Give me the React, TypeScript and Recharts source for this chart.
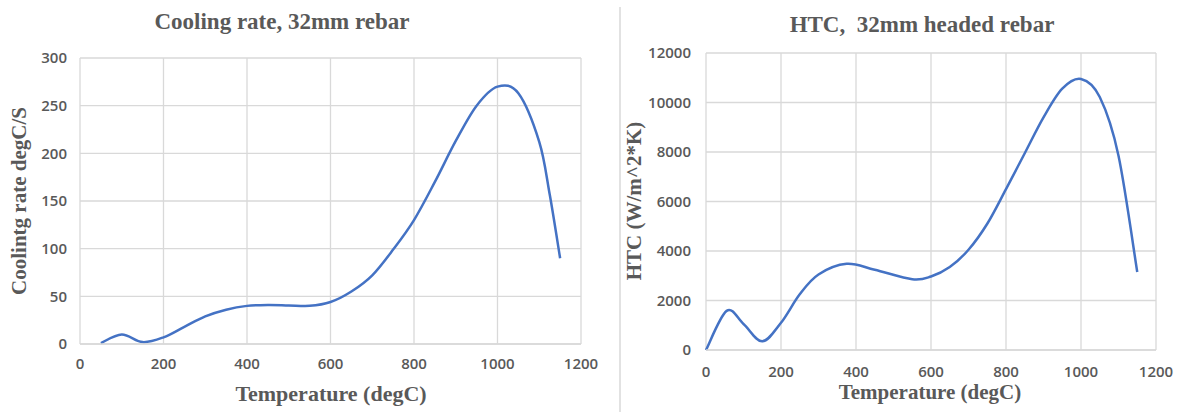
import React from "react";
import { LineChart, Line, XAxis, YAxis, CartesianGrid } from "recharts";

// Cooling rate of 32mm rebar vs temperature
const coolTemps = [50, 100, 150, 200, 250, 300, 350, 400, 450, 500, 550, 600, 650, 700, 750, 800, 850, 900, 950, 1000, 1050, 1100, 1125, 1150];
const coolRates = [1, 10, 2, 7, 18, 29, 36, 40, 41, 40.5, 40, 44, 55, 72, 99, 130, 170, 213, 250, 270, 263, 212, 157, 90];

// HTC of 32mm headed rebar vs temperature
const htcTemps = [0, 55, 100, 150, 200, 250, 300, 375, 450, 550, 600, 650, 700, 750, 800, 850, 900, 950, 1000, 1050, 1100, 1150];
const htcValues = [0, 1580, 1050, 350, 1100, 2250, 3050, 3480, 3240, 2860, 2970, 3350, 4050, 5100, 6500, 7950, 9400, 10560, 10950, 10220, 7850, 3150];

const xTicks = [0, 200, 400, 600, 800, 1000, 1200];
const coolTicks = [0, 50, 100, 150, 200, 250, 300];
const htcTicks = [0, 2000, 4000, 6000, 8000, 10000, 12000];

const coolData = coolTemps.map((t, i) => ({ t, v: coolRates[i] }));
const htcData = htcTemps.map((t, i) => ({ t, v: htcValues[i] }));

const GRID = "#d9d9d9";
const TEXT = "#595959";
const LINE = "#4472C4";
const tickStyle = { fill: TEXT, fontSize: 15, fontFamily: "Open Sans", fontWeight: 600 };
const serif = { fontFamily: "Liberation Serif", fontWeight: 700, fill: TEXT };

// Excel-like smoothed line (Catmull-Rom through the points)
// eslint-disable-next-line @typescript-eslint/no-explicit-any
const smooth = (context: any) => {
  let pts: number[][] = [];
  return {
    areaStart() {},
    areaEnd() {},
    lineStart() {
      pts = [];
    },
    point(x: number, y: number) {
      pts.push([+x, +y]);
    },
    lineEnd() {
      if (!pts.length) return;
      context.moveTo(pts[0][0], pts[0][1]);
      for (let i = 0; i < pts.length - 1; i++) {
        const p0 = pts[i - 1] || pts[i];
        const p1 = pts[i];
        const p2 = pts[i + 1];
        const p3 = pts[i + 2] || p2;
        context.bezierCurveTo(
          p1[0] + (p2[0] - p0[0]) / 6,
          p1[1] + (p2[1] - p0[1]) / 6,
          p2[0] - (p3[0] - p1[0]) / 6,
          p2[1] - (p3[1] - p1[1]) / 6,
          p2[0],
          p2[1]
        );
      }
    },
  };
};

export default function App() {
  return (
    <div style={{ position: "absolute", left: 0, top: 0, width: 1184, height: 412, background: "#fff" }}>
      <div style={{ position: "absolute", left: 0, top: 0 }}>
        <LineChart width={600} height={412} data={coolData} margin={{ top: 58, right: 19, bottom: 38, left: 0 }}>
          <CartesianGrid stroke={GRID} strokeWidth={1.3} />
          <XAxis
            dataKey="t"
            type="number"
            domain={[0, 1200]}
            ticks={xTicks}
            tick={tickStyle}
            tickLine={false}
            axisLine={{ stroke: GRID, strokeWidth: 1.3 }}
            tickMargin={8}
            height={30}
          />
          <YAxis
            domain={[0, 300]}
            ticks={coolTicks}
            tick={tickStyle}
            tickLine={false}
            axisLine={false}
            tickMargin={7}
            width={80}
          />
          <Line type={smooth} dataKey="v" stroke={LINE} strokeWidth={2.5} dot={false} isAnimationActive={false} />
        </LineChart>
      </div>
      <div style={{ position: "absolute", left: 620, top: 0 }}>
        <LineChart width={564} height={412} data={htcData} margin={{ top: 53, right: 28, bottom: 32, left: 0 }}>
          <CartesianGrid stroke={GRID} strokeWidth={1.3} />
          <XAxis
            dataKey="t"
            type="number"
            domain={[0, 1200]}
            ticks={xTicks}
            tick={tickStyle}
            tickLine={false}
            axisLine={{ stroke: GRID, strokeWidth: 1.3 }}
            tickMargin={10}
            height={30}
          />
          <YAxis
            domain={[0, 12000]}
            ticks={htcTicks}
            tick={tickStyle}
            tickLine={false}
            axisLine={false}
            tickMargin={9}
            width={86}
          />
          <Line type={smooth} dataKey="v" stroke={LINE} strokeWidth={2.5} dot={false} isAnimationActive={false} />
        </LineChart>
      </div>
      {/* titles, axis titles and divider */}
      <svg width={1184} height={412} style={{ position: "absolute", left: 0, top: 0, pointerEvents: "none" }}>
        <line x1={620} y1={7} x2={620} y2={412} stroke={GRID} strokeWidth={1.5} />
        <text x={282} y={29} textAnchor="middle" fontSize={23} {...serif}>Cooling rate, 32mm rebar</text>
        <text x={922} y={32} textAnchor="middle" fontSize={23} style={{ whiteSpace: "pre" }} {...serif}>HTC,  32mm headed rebar</text>
        <text x={331} y={401} textAnchor="middle" fontSize={22} {...serif}>Temperature (degC)</text>
        <text x={930} y={399} textAnchor="middle" fontSize={21} {...serif}>Temperature (degC)</text>
        <text x={26} y={201} textAnchor="middle" fontSize={21} transform="rotate(-90 26 201)" {...serif}>Coolintg rate degC/S</text>
        <text x={641} y={201} textAnchor="middle" fontSize={21} transform="rotate(-90 641 201)" {...serif}>HTC (W/m^2*K)</text>
      </svg>
    </div>
  );
}
